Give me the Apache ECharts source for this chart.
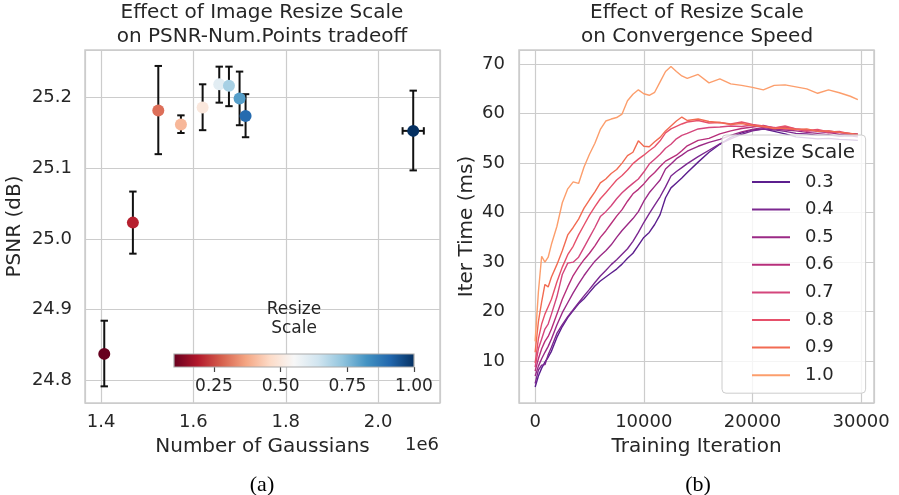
<!DOCTYPE html>
<html>
<head>
<meta charset="utf-8">
<script src="https://cdn.jsdelivr.net/npm/echarts@6/dist/echarts.min.js"></script>
<style>
  html, body { margin: 0; padding: 0; background: #fff; }
  #main { width: 899px; height: 495px; }
</style>
</head>
<body>
<div id="main"></div>
<script>
// (a) PSNR vs number of gaussians, one point per resize scale
const scales = [0.1, 0.2, 0.3, 0.4, 0.5, 0.6, 0.7, 0.8, 0.9, 1.0];
const gaussians = [1.407, 1.469, 1.524, 1.573, 1.620, 1.656, 1.677, 1.700, 1.713, 2.076]; // 1e6
const gaussErr = [0.007, 0.004, 0.004, 0.003, 0.004, 0.003, 0.003, 0.004, 0.004, 0.023];
const psnr = [24.837, 25.023, 25.182, 25.162, 25.186, 25.219, 25.217, 25.199, 25.174, 25.153];
const psnrLow = [24.791, 24.979, 25.120, 25.150, 25.154, 25.193, 25.188, 25.161, 25.144, 25.097];
const psnrHigh = [24.884, 25.067, 25.245, 25.175, 25.219, 25.244, 25.244, 25.237, 25.205, 25.210];
const colorbarTicks = [0.25, 0.5, 0.75, 1.0];

// (b) iteration time vs training iteration
const iters = [0, 300, 600, 900, 1200, 1500, 2000, 2500, 3000, 3500, 4000, 4500, 5000, 5500, 6000,
  6500, 7000, 7500, 8000, 8500, 9000, 9500, 10000, 10500, 11000, 11500, 12000, 12500, 13000, 13500,
  14000, 15000, 16000, 17000, 18000, 19000, 20000, 21000, 22000, 23000, 24000, 25000, 26000, 27000,
  28000, 29000, 29700];
const time03 = [4.8, 7.0, 8.6, 9.8, 10.8,
  12.0, 14.8, 17.0, 18.8, 20.2, 21.6, 22.6, 23.9, 25.2, 26.2, 27.0, 27.8, 28.6, 29.6, 30.8, 31.8, 33.4, 35.0, 36.0, 37.6, 39.6, 43.0, 45.0, 46.0, 47.0, 48.1,
  50.2, 52.2, 53.8, 55.2, 56.1, 56.7, 56.9, 56.4, 55.9, 55.3, 55.1, 54.9, 55.0, 54.8, 54.7, 54.6];
const time04 = [5.5, 8.2, 9.2, 9.3, 11.3,
  12.8, 15.6, 17.4, 19.0, 20.4, 21.8, 23.2, 24.5, 25.9, 27.2, 28.3, 29.5, 30.5, 31.6, 32.7, 34.2, 36.0, 38.0, 39.8, 41.5, 43.2, 45.2, 47.4, 48.3, 49.1, 49.9,
  51.3, 52.6, 53.9, 54.9, 55.8, 56.5, 56.9, 56.7, 56.4, 56.0, 55.9, 55.6, 55.7, 55.4, 55.5, 55.3];
const time05 = [7.0, 9.0, 10.5, 11.8, 13.0,
  14.5, 17.3, 19.8, 21.8, 23.8, 25.6, 27.3, 28.8, 30.2, 31.3, 32.3, 33.5, 35.0, 36.4, 37.6, 38.8, 40.2, 42.3, 44.0, 45.3, 46.6, 48.8, 49.8, 50.9, 51.6, 52.4,
  53.4, 54.2, 54.8, 55.6, 56.3, 56.8, 57.2, 56.9, 56.7, 56.5, 56.2, 56.0, 56.2, 55.8, 55.9, 55.6];
const time06 = [8.0, 10.5, 12.5, 14.0, 15.0,
  16.5, 19.5, 22.5, 25.0, 27.3, 29.0, 30.5, 31.8, 33.3, 35.0, 36.3, 37.8, 39.3, 40.6, 42.3, 43.8, 44.7, 45.8, 47.1, 48.1, 49.3, 50.4, 51.0, 51.6, 52.5, 53.5,
  54.6, 55.0, 55.9, 56.5, 57.0, 57.3, 57.6, 57.1, 57.3, 56.9, 56.7, 56.4, 56.5, 56.2, 56.0, 55.9];
const time07 = [8.8, 12.5, 14.5, 16.5, 17.5,
  19.5, 23.0, 27.5, 29.8, 30.0, 31.0, 33.0, 35.0, 37.0, 39.2, 40.2, 41.4, 42.8, 44.0, 45.0, 45.9, 46.8, 48.2, 49.8, 50.8, 51.8, 53.0, 53.8, 54.9, 55.6, 56.0,
  56.9, 57.2, 57.3, 57.5, 57.4, 57.7, 57.3, 57.2, 56.9, 56.8, 56.4, 56.6, 56.1, 56.2, 55.8, 55.5];
const time08 = [9.6, 14.5, 17.5, 19.5, 21.0,
  22.5, 26.0, 29.0, 31.5, 33.2, 35.5, 37.5, 39.5, 41.2, 42.8, 44.0, 45.3, 46.6, 47.5, 48.6, 49.9, 50.8, 51.6, 52.5, 53.3, 54.5, 56.1, 56.9, 57.4, 57.9, 58.3,
  58.6, 58.1, 58.2, 57.9, 58.3, 57.8, 57.5, 57.1, 57.5, 56.9, 56.6, 56.8, 56.3, 56.4, 55.9, 55.6];
const time09 = [11.8, 18.0, 22.0, 25.5, 25.0,
  27.0, 29.5, 32.3, 35.5, 37.0, 38.7, 40.9, 42.6, 44.2, 46.0, 46.8, 47.9, 48.7, 50.0, 51.5, 52.2, 54.5, 53.4, 53.3, 54.3, 55.2, 56.5, 57.5, 58.5, 59.3, 58.6,
  58.9, 58.4, 58.2, 57.8, 58.0, 57.6, 57.4, 57.0, 57.1, 56.8, 56.9, 56.4, 56.5, 56.2, 56.0, 55.8];
const time10 = [14.0, 24.0, 31.2, 30.0, 31.0,
  33.6, 37.2, 42.0, 44.8, 46.2, 45.9, 49.2, 51.8, 54.0, 56.8, 58.5, 58.9, 59.2, 59.9, 62.6, 63.9, 64.8, 64.0, 63.7, 64.3, 66.4, 68.5, 69.5, 68.5, 67.6, 67.1,
  67.9, 66.2, 67.0, 66.0, 65.7, 65.3, 64.8, 65.7, 65.8, 65.4, 65.0, 64.1, 64.8, 64.2, 63.5, 62.8];

const lineNames = ["0.3", "0.4", "0.5", "0.6", "0.7", "0.8", "0.9", "1.0"];
const lineData = [time03, time04, time05, time06, time07, time08, time09, time10];
const lineColors = ["#5c1f8e", "#7c2890", "#9b2a86", "#b72f7b", "#d4467c", "#e6506a", "#f26b52", "#fc9e6c"];

// RdBu colormap
const rdbu = ["#67001f", "#b2182b", "#d6604d", "#f4a582", "#fddbc7", "#f7f7f7",
  "#d1e5f0", "#92c5de", "#4393c3", "#2166ac", "#053061"];

const txt = "#262626";
const gridCol = "#cccccc";
const font = "DejaVu Sans";

const chart = echarts.init(document.getElementById("main"), null, { renderer: "canvas" });

/** error bars drawn from data through the axes */
function renderErr(params, api) {
  const x = api.value(0);
  const y = api.value(1);
  const lo = api.coord([x, api.value(2)]);
  const hi = api.coord([x, api.value(3)]);
  const l = api.coord([api.value(4), y]);
  const r = api.coord([api.value(5), y]);
  const c = 3.7;
  const st = { stroke: "#111", lineWidth: 2 };
  return {
    type: "group",
    children: [
      { type: "line", shape: { x1: lo[0], y1: lo[1], x2: hi[0], y2: hi[1] }, style: st },
      { type: "line", shape: { x1: lo[0] - c, y1: lo[1], x2: lo[0] + c, y2: lo[1] }, style: st },
      { type: "line", shape: { x1: hi[0] - c, y1: hi[1], x2: hi[0] + c, y2: hi[1] }, style: st },
      { type: "line", shape: { x1: l[0], y1: l[1], x2: r[0], y2: r[1] }, style: st },
      { type: "line", shape: { x1: l[0], y1: l[1] - c, x2: l[0], y2: l[1] + c }, style: st },
      { type: "line", shape: { x1: r[0], y1: r[1] - c, x2: r[0], y2: r[1] + c }, style: st }
    ]
  };
}

const titleStyle = { fontSize: 20, fontWeight: "normal", color: txt, lineHeight: 24, fontFamily: font };

const axisLabelStyle = { fontSize: 18, color: txt, fontFamily: font };

const option = {
  animation: false,
  textStyle: { fontFamily: font },
  title: [
    { text: "Effect of Image Resize Scale\non PSNR-Num.Points tradeoff", left: 262, top: 1, padding: 0, textAlign: "center", textStyle: titleStyle },
    { text: "Effect of Resize Scale\non Convergence Speed", left: 697, top: 1, padding: 0, textAlign: "center", textStyle: titleStyle },
    { text: "Resize\nScale", left: 294, top: 300, padding: 0, textAlign: "center",
      textStyle: { fontSize: 17, fontWeight: "normal", color: txt, lineHeight: 19, fontFamily: font } },
    { text: "Resize Scale", left: 793, top: 142, padding: 0, textAlign: "center",
      textStyle: { fontSize: 20, fontWeight: "normal", color: txt, lineHeight: 22, fontFamily: font } },
    { text: "1e6", left: 422, top: 436, padding: 0, textAlign: "center",
      textStyle: { fontSize: 18, fontWeight: "normal", color: txt, lineHeight: 18, fontFamily: font } },
    { text: "(a)", left: 262, top: 474, padding: 0, textAlign: "center",
      textStyle: { fontSize: 22, fontWeight: "normal", color: "#000", lineHeight: 22, fontFamily: "Liberation Serif" } },
    { text: "(b)", left: 698, top: 474, padding: 0, textAlign: "center",
      textStyle: { fontSize: 22, fontWeight: "normal", color: "#000", lineHeight: 22, fontFamily: "Liberation Serif" } }
  ],
  grid: [
    { left: 85, top: 50, width: 355, height: 353, show: true, borderColor: gridCol, borderWidth: 1.5 },
    { left: 519, top: 50, width: 355, height: 353, show: true, borderColor: gridCol, borderWidth: 1.5 },
    // colorbar
    { left: 174, top: 354, width: 240, height: 13, show: true, borderColor: "#aaaaaa", borderWidth: 1.2,
      backgroundColor: new echarts.graphic.LinearGradient(0, 0, 1, 0,
        rdbu.map((c, i) => ({ offset: i / (rdbu.length - 1), color: c }))), z: 5 }
  ],
  visualMap: {
    show: false,
    type: "continuous",
    seriesIndex: 1,
    dimension: 2,
    min: 0.1,
    max: 1.0,
    inRange: { color: rdbu }
  },
  legend: {
    data: lineNames,
    orient: "vertical",
    left: 722,
    top: 135,
    padding: [37, 32, 8, 30],
    itemGap: 7.6,
    itemWidth: 38,
    itemHeight: 2,
    icon: "rect",
    backgroundColor: "rgba(255,255,255,0.8)",
    borderColor: "#cccccc",
    borderWidth: 1,
    borderRadius: 4,
    selectedMode: false,
    textStyle: { fontSize: 18, color: txt, lineHeight: 20, padding: [0, 0, 0, 10], fontFamily: font }
  },
  xAxis: [
    {
      gridIndex: 0, type: "value", min: 1.3653, max: 2.134, splitNumber: 4,
      name: "Number of Gaussians", nameLocation: "middle", nameGap: 34,
      nameTextStyle: { fontSize: 20, color: txt, fontFamily: font },
      axisLine: { show: false }, axisTick: { show: false },
      axisLabel: Object.assign({ margin: 10, showMinLabel: false, showMaxLabel: false, formatter: v => v.toFixed(1) }, axisLabelStyle),
      splitLine: { lineStyle: { color: gridCol, width: 1.2 } }
    },
    {
      gridIndex: 1, type: "value", min: -1485, max: 31185, splitNumber: 3,
      name: "Training Iteration", nameLocation: "middle", nameGap: 34,
      nameTextStyle: { fontSize: 20, color: txt, fontFamily: font },
      axisLine: { show: false }, axisTick: { show: false },
      axisLabel: Object.assign({ margin: 10, showMinLabel: false, showMaxLabel: false, formatter: v => String(Math.round(v)) }, axisLabelStyle),
      splitLine: { lineStyle: { color: gridCol, width: 1.2 } }
    },
    {
      gridIndex: 2, type: "value", min: 0.1, max: 1.0, position: "bottom",
      axisLine: { show: false },
      axisTick: { show: true, customValues: colorbarTicks, length: 5, lineStyle: { color: "#444", width: 1.2 } },
      axisLabel: { customValues: colorbarTicks, formatter: v => v.toFixed(2), margin: 11, fontSize: 17, color: txt, fontFamily: font },
      splitLine: { show: false }
    }
  ],
  yAxis: [
    {
      gridIndex: 0, type: "value", min: 24.7674, max: 25.2676, splitNumber: 5,
      name: "PSNR (dB)", nameLocation: "middle", nameGap: 60,
      nameTextStyle: { fontSize: 20, color: txt, fontFamily: font },
      axisLine: { show: false }, axisTick: { show: false },
      axisLabel: Object.assign({ margin: 13, showMinLabel: false, showMaxLabel: false, formatter: v => v.toFixed(1) }, axisLabelStyle),
      splitLine: { lineStyle: { color: gridCol, width: 1.2 } }
    },
    {
      gridIndex: 1, type: "value", min: 1.56, max: 72.84, splitNumber: 7,
      name: "Iter Time (ms)", nameLocation: "middle", nameGap: 42,
      nameTextStyle: { fontSize: 20, color: txt, fontFamily: font },
      axisLine: { show: false }, axisTick: { show: false },
      axisLabel: Object.assign({ margin: 14, showMinLabel: false, showMaxLabel: false, formatter: v => String(Math.round(v)) }, axisLabelStyle),
      splitLine: { lineStyle: { color: gridCol, width: 1.2 } }
    },
    { gridIndex: 2, type: "value", min: 0, max: 1, show: false }
  ],
  series: [
    {
      type: "custom",
      xAxisIndex: 0,
      yAxisIndex: 0,
      renderItem: renderErr,
      data: gaussians.map((g, i) => [g, psnr[i], psnrLow[i], psnrHigh[i], g - gaussErr[i], g + gaussErr[i]]),
      encode: { x: 0, y: 1 },
      z: 2,
      silent: true
    },
    {
      type: "scatter",
      xAxisIndex: 0,
      yAxisIndex: 0,
      symbolSize: 12,
      itemStyle: { opacity: 1 },
      data: gaussians.map((g, i) => [g, psnr[i], scales[i]]),
      z: 3
    }
  ].concat(lineNames.map((name, k) => ({
    name: name,
    type: "line",
    xAxisIndex: 1,
    yAxisIndex: 1,
    showSymbol: false,
    symbol: "none",
    color: lineColors[k],
    lineStyle: { width: 1.4, color: lineColors[k] },
    data: iters.map((x, i) => [x, lineData[k][i]]),
    z: 2
  })))
};

chart.setOption(option);
</script>
</body>
</html>
